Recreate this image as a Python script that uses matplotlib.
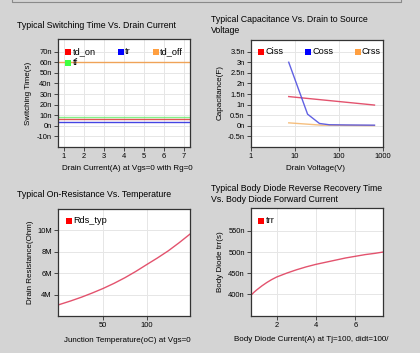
import numpy as np
import matplotlib
matplotlib.use("Agg")
import matplotlib.pyplot as plt
from matplotlib.patches import Rectangle
from matplotlib.lines import Line2D

plt.rcParams['font.family'] = ['Liberation Sans', 'DejaVu Sans']

# ---------------- data ----------------
# Panel 1: switching time vs drain current (ns)
sw_current = [0.7, 7.3]
td_on = [6.3, 6.3]
tr = [3.8, 3.8]
td_off = [60.5, 60.5]
tf = [8.2, 8.2]
sw_yticks = [-10, 0, 10, 20, 30, 40, 50, 60, 70]
sw_xticks = [1, 2, 3, 4, 5, 6, 7]

# Panel 2: capacitance vs drain voltage (nF)
cap_v_ciss = [7.2, 640]
ciss = [1.38, 0.98]
cap_v_coss = [7.2, 19.3, 36, 60, 150, 640]
coss = [3.0, 0.55, 0.11, 0.05, 0.04, 0.03]
cap_v_crss = [7.2, 40, 640]
crss = [0.14, 0.03, 0.01]
cap_yticks = [-0.5, 0, 0.5, 1, 1.5, 2, 2.5, 3, 3.5]
cap_yticklabels = ["-0.5n", "0n", "0.5n", "1n", "1.5n", "2n", "2.5n", "3n", "3.5n"]
cap_xticks = [1, 10, 100, 1000]

# Panel 3: on-resistance vs temperature (M)
temp = [-2, 0, 12.5, 25, 37.5, 50, 62.5, 75, 87.5, 100, 112.5, 125, 137.5, 150]
rds = [3.07, 3.12, 3.44, 3.79, 4.18, 4.6, 5.07, 5.59, 6.17, 6.8, 7.42, 8.08, 8.83, 9.63]
rds_yticks = [4, 6, 8, 10]
rds_xticks = [50, 100]

# Panel 4: trr vs body diode current (ns)
diode_i = [0.7, 0.85, 1.0, 1.25, 1.5, 1.75, 2.0, 2.5, 3.0, 3.5, 4.0, 4.5, 5.0,
           5.5, 6.0, 6.5, 7.0, 7.4]
trr = [398, 405, 411, 420, 428, 435, 441, 450, 458, 465, 471, 476, 481,
       486, 490, 494, 497, 500]
trr_yticks = [400, 450, 500, 550]
trr_xticks = [2, 4, 6]

# ---------------- figure ----------------
W, H = 420, 353
fig = plt.figure(figsize=(W / 100, H / 100), dpi=100)
bg = '#d4d4d4'
fig.patch.set_facecolor(bg)

FS_T = 6.3
FS_L = 5.8
FS_K = 5.4

def px_axes(l, t, r, b):
    return fig.add_axes([l / W, 1 - b / H, (r - l) / W, (b - t) / H])

def style(ax):
    ax.set_facecolor('white')
    for s in ax.spines.values():
        s.set_color('#333333')
        s.set_linewidth(0.9)
    ax.tick_params(direction='out', length=3, width=0.7, color='#444444',
                   labelsize=FS_K, pad=1.5)
    ax.grid(True, color='#e6e6e6', linewidth=0.7)
    ax.set_axisbelow(True)

def legend_item(x, y, color, label):
    fig.patches.append(Rectangle(((x) / W, 1 - (y + 3) / H), 6 / W, 6 / H,
                                 transform=fig.transFigure, facecolor=color,
                                 edgecolor='none', zorder=10))
    t = fig.text((x + 7.5) / W, 1 - y / H, label, fontsize=FS_L + 0.8,
                 va='center', ha='left', zorder=10)
    return t

def labels(xl, xlx, xly, yl, ylx, yly, xl_ha='center'):
    fig.text(xlx / W, 1 - xly / H, xl, fontsize=FS_L, ha=xl_ha, va='center')
    fig.text(ylx / W, 1 - yly / H, yl, fontsize=FS_L, ha='center', va='center',
             rotation=90)

# top frame decoration
fig.lines.append(Line2D([12 / W, 12 / W, 401 / W, 401 / W],
                        [1, 1 - 2 / H, 1 - 2 / H, 1], transform=fig.transFigure,
                        color='#8a8a8a', linewidth=0.8))

# ---- Panel 1 ----
ax1 = px_axes(58, 39, 190, 147)
style(ax1)
ax1.plot(sw_current, tf, color='#66ee66', lw=1.0, alpha=0.8)
ax1.plot(sw_current, td_on, color='#e04040', lw=1.0, alpha=0.9)
ax1.plot(sw_current, tr, color='#3030e0', lw=1.0, alpha=0.9)
ax1.plot(sw_current, td_off, color='#f0a050', lw=1.0, alpha=0.95)
ax1.set_xlim(0.7, 7.3)
ax1.set_ylim(-20, 82)
ax1.set_yticks(sw_yticks)
ax1.set_yticklabels([f"{v}n" for v in sw_yticks])
ax1.set_xticks(sw_xticks)
fig.text(17 / W, 1 - 25 / H, "Typical Switching Time Vs. Drain Current",
         fontsize=FS_T, ha='left', va='center')
labels("Drain Current(A) at Vgs=0 with Rg=0", 127, 168,
       "Switching Time(s)", 28, 93)
legend_item(65, 51.7, '#ff0000', 'td_on')
legend_item(117.5, 51.7, '#0000ff', 'tr')
legend_item(152.5, 51.7, '#ff9f40', 'td_off')
legend_item(65, 62.5, '#40ff40', 'tf')

# ---- Panel 2 ----
ax2 = px_axes(251, 40, 383, 147)
style(ax2)
ax2.set_xscale('log')
ax2.plot(cap_v_crss, crss, color='#f5b870', lw=1.0, alpha=0.9)
ax2.plot(cap_v_ciss, ciss, color='#e0405e', lw=1.0, alpha=0.9)
ax2.plot(cap_v_coss, coss, color='#5050e0', lw=1.0, alpha=0.9)
ax2.set_xlim(1, 1000)
ax2.set_ylim(-1.0, 4.05)
ax2.set_yticks(cap_yticks)
ax2.set_yticklabels(cap_yticklabels)
ax2.set_xticks(cap_xticks)
ax2.set_xticklabels([str(v) for v in cap_xticks])
ax2.xaxis.set_minor_locator(matplotlib.ticker.NullLocator())
fig.text(211 / W, 1 - 19 / H, "Typical Capacitance Vs. Drain to Source",
         fontsize=FS_T, ha='left', va='center')
fig.text(211 / W, 1 - 30.5 / H, "Voltage", fontsize=FS_T, ha='left', va='center')
labels("Drain Voltage(V)", 316, 168, "Capacitance(F)", 220, 93)
legend_item(257.5, 51.7, '#ff0000', 'Ciss')
legend_item(305, 51.7, '#0000ff', 'Coss')
t = legend_item(354.5, 51.7, '#ff9f40', 'Crss')
t.set_clip_box(ax2.bbox)
t.set_clip_on(True)

# ---- Panel 3 ----
ax3 = px_axes(58, 209, 190, 316)
style(ax3)
ax3.plot(temp, rds, color='#e0405e', lw=1.0, alpha=0.9)
ax3.set_xlim(-2, 150)
ax3.set_ylim(2.05, 11.95)
ax3.set_yticks(rds_yticks)
ax3.set_yticklabels([f"{v}M" for v in rds_yticks])
ax3.set_xticks(rds_xticks)
fig.text(17 / W, 1 - 194 / H, "Typical On-Resistance Vs. Temperature",
         fontsize=FS_T, ha='left', va='center')
labels("Junction Temperature(oC) at Vgs=0", 127, 340,
       "Drain Resistance(Ohm)", 30, 262)
legend_item(65.5, 221, '#ff0000', 'Rds_typ')

# ---- Panel 4 ----
ax4 = px_axes(251, 208, 383, 316)
style(ax4)
ax4.plot(diode_i, trr, color='#e0405e', lw=1.0, alpha=0.9)
ax4.set_xlim(0.7, 7.4)
ax4.set_ylim(349, 604)
ax4.set_yticks(trr_yticks)
ax4.set_yticklabels([f"{v}n" for v in trr_yticks])
ax4.set_xticks(trr_xticks)
fig.text(211 / W, 1 - 188.5 / H, "Typical Body Diode Reverse Recovery Time",
         fontsize=FS_T, ha='left', va='center')
fig.text(211 / W, 1 - 200 / H, "Vs. Body Diode Forward Current",
         fontsize=FS_T, ha='left', va='center')
labels("Body Diode Current(A) at Tj=100, didt=100/", 234, 339.5,
       "Body Diode trr(s)", 220, 262, xl_ha='left')
legend_item(258, 221, '#ff0000', 'trr')

fig.savefig("out.png", dpi=100, facecolor=bg)
